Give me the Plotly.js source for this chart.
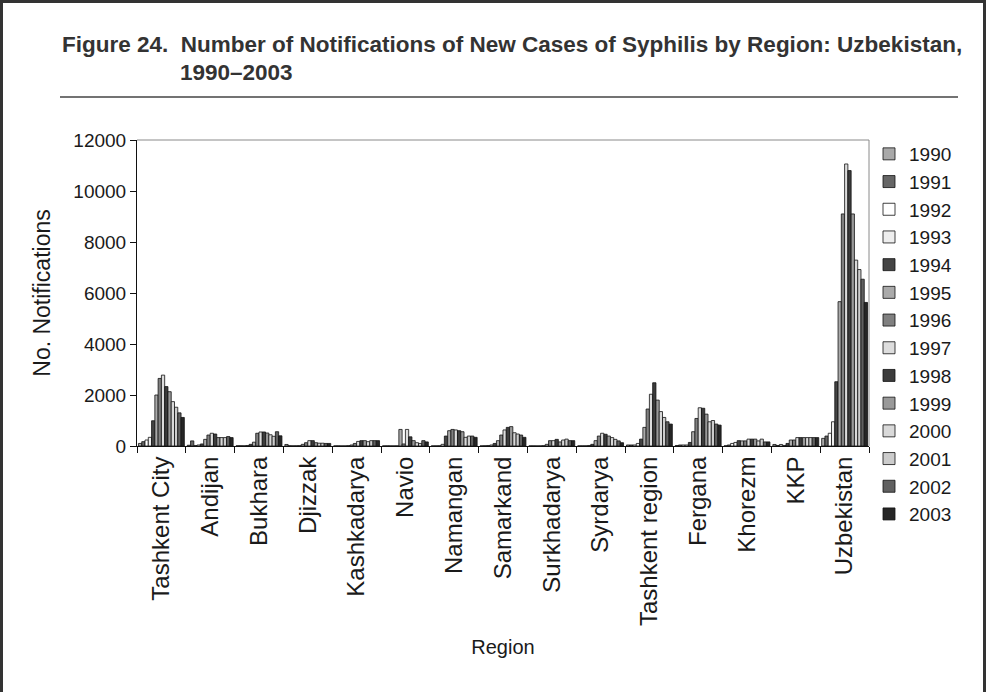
<!DOCTYPE html>
<html>
<head>
<meta charset="utf-8">
<script src="https://cdn.plot.ly/plotly-3.0.1.min.js"></script>
<style>
html,body{margin:0;padding:0;background:#fff;}
#chart{width:986px;height:692px;}
</style>
</head>
<body>
<div id="chart"></div>
<script>
// ---- data ----
var regions = ['Tashkent City','Andijan','Bukhara','Djizzak','Kashkadarya','Navio','Namangan','Samarkand','Surkhadarya','Syrdarya','Tashkent region','Fergana','Khorezm','KKP','Uzbekistan'];
var years = ['1990','1991','1992','1993','1994','1995','1996','1997','1998','1999','2000','2001','2002','2003'];

// notifications per region, 1990..2003
var tashkentCity   = [100, 170, 235, 340, 990, 2000, 2650, 2780, 2330, 2130, 1740, 1520, 1300, 1120];
var andijan        = [30, 200, 20, 40, 80, 260, 430, 500, 470, 330, 330, 330, 370, 330];
var bukhara        = [10, 10, 10, 20, 65, 150, 500, 550, 550, 510, 440, 380, 560, 400];
var djizzak        = [60, 10, 10, 10, 10, 65, 130, 210, 210, 130, 110, 110, 100, 100];
var kashkadarya    = [5, 5, 5, 5, 10, 40, 100, 180, 210, 210, 170, 210, 210, 210];
var navio          = [5, 5, 5, 5, 5, 650, 80, 650, 360, 210, 130, 100, 210, 160];
var namangan       = [5, 5, 10, 65, 390, 600, 650, 630, 600, 560, 340, 390, 390, 340];
var samarkand      = [5, 10, 20, 40, 100, 210, 430, 630, 730, 760, 520, 470, 430, 340];
var surkhadarya    = [5, 5, 5, 5, 10, 65, 210, 210, 260, 160, 235, 270, 210, 210];
var syrdarya       = [5, 5, 10, 20, 65, 210, 390, 500, 460, 390, 330, 260, 200, 130];
var tashkentRegion = [40, 40, 40, 100, 270, 730, 1450, 2030, 2480, 1800, 1350, 1120, 950, 860];
var fergana        = [20, 40, 40, 40, 140, 560, 1080, 1500, 1480, 1250, 950, 1000, 860, 820];
var khorezm        = [10, 40, 100, 140, 210, 200, 200, 270, 270, 270, 200, 270, 160, 160];
var kkp            = [60, 20, 60, 20, 100, 235, 235, 330, 330, 330, 330, 330, 330, 330];
var uzbekistan     = [300, 390, 500, 950, 2520, 5660, 9100, 11060, 10800, 9100, 7290, 6920, 6540, 5630];

var yearColors = ['#a9a9a9','#666666','#ffffff','#eeeeee','#444444','#aaaaaa','#808080','#dddddd','#3c3c3c','#999999','#d9d9d9','#cccccc','#606060','#262626'];

var table = [tashkentCity, andijan, bukhara, djizzak, kashkadarya, navio, namangan, samarkand,
             surkhadarya, syrdarya, tashkentRegion, fergana, khorezm, kkp, uzbekistan];

var traces = years.map(function(yr, j){
  return {
    type: 'bar',
    name: yr,
    x: regions,
    y: table.map(function(row){ return row[j]; }),
    legendgroup: yr,
    marker: {color: yearColors[j], line: {color: '#111', width: 0.8}},
    hoverinfo: 'x+y+name'
  };
});

// pixel helpers for decorations outside the plot area
var L = 137, R = 869, T = 140, B = 446;
function px(x){ return (x - L) / (R - L); }
function py(y){ return (B - y) / (B - T); }

var font = 'Liberation Sans, Arial, sans-serif';

var layout = {
  width: 986, height: 692,
  margin: {l: L, r: 986 - R, t: T, b: 692 - B, pad: 0},
  paper_bgcolor: '#fff', plot_bgcolor: '#fff',
  font: {family: font, color: '#1a1a1a', size: 19},
  barmode: 'group',
  bargap: 0.06, bargroupgap: 0,
  showlegend: true,
  legend: {
    x: px(869), xanchor: 'left', y: py(135), yanchor: 'top',
    font: {family: font, size: 19, color: '#1a1a1a'},
    traceorder: 'normal', tracegroupgap: 0, itemwidth: 30,
    maxheight: 600,
    bgcolor: 'rgba(0,0,0,0)', borderwidth: 0
  },
  xaxis: {
    type: 'category', tickangle: -90,
    showline: true, linecolor: '#111', linewidth: 1,
    ticks: 'outside', tickson: 'boundaries', ticklen: 6, tickcolor: '#111',
    tickfont: {family: font, size: 24, color: '#1a1a1a'},
    showgrid: false, zeroline: false, automargin: false,
    title: {text: 'Region', font: {family: font, size: 20, color: '#1a1a1a'}, standoff: 14}
  },
  yaxis: {
    range: [0, 12000], dtick: 2000, tickformat: 'd',
    showline: true, linecolor: '#111', linewidth: 1,
    ticks: 'outside', ticklen: 6, tickcolor: '#111',
    tickfont: {family: font, size: 19, color: '#1a1a1a'},
    showgrid: false, zeroline: false, automargin: false,
    title: {text: 'No. Notifications', font: {family: font, size: 23, color: '#1a1a1a'}, standoff: 16}
  },
  shapes: [
    // plot frame (top, right) in gray
    {type: 'line', xref: 'paper', yref: 'paper', x0: 0, x1: 1, y0: 1, y1: 1, line: {color: '#8a8a8a', width: 1}},
    {type: 'line', xref: 'paper', yref: 'paper', x0: 1, x1: 1, y0: 0, y1: 1, line: {color: '#8a8a8a', width: 1}},
    // separator under title
    {type: 'line', xref: 'paper', yref: 'paper', x0: px(60), x1: px(958), y0: py(97), y1: py(97), line: {color: '#444', width: 1.5}},
    // outer figure border
    {type: 'line', xref: 'paper', yref: 'paper', x0: px(1.5), x1: px(1.5), y0: py(0), y1: py(692), line: {color: '#333', width: 3}},
    {type: 'line', xref: 'paper', yref: 'paper', x0: px(0), x1: px(986), y0: py(1.5), y1: py(1.5), line: {color: '#333', width: 3}},
    {type: 'line', xref: 'paper', yref: 'paper', x0: px(984.5), x1: px(984.5), y0: py(0), y1: py(692), line: {color: '#333', width: 3}}
  ],
  annotations: [
    {xref: 'paper', yref: 'paper', x: px(60), y: py(44), xanchor: 'left', yanchor: 'middle', showarrow: false,
     text: '<b>Figure 24.  Number of Notifications of New Cases of Syphilis by Region: Uzbekistan,</b>',
     font: {family: font, size: 22.5, color: '#333'}},
    {xref: 'paper', yref: 'paper', x: px(178), y: py(73), xanchor: 'left', yanchor: 'middle', showarrow: false,
     text: '<b>1990–2003</b>',
     font: {family: font, size: 22.5, color: '#333'}}
  ]
};

Plotly.newPlot('chart', traces, layout, {displayModeBar: false, staticPlot: true});
</script>
</body>
</html>
